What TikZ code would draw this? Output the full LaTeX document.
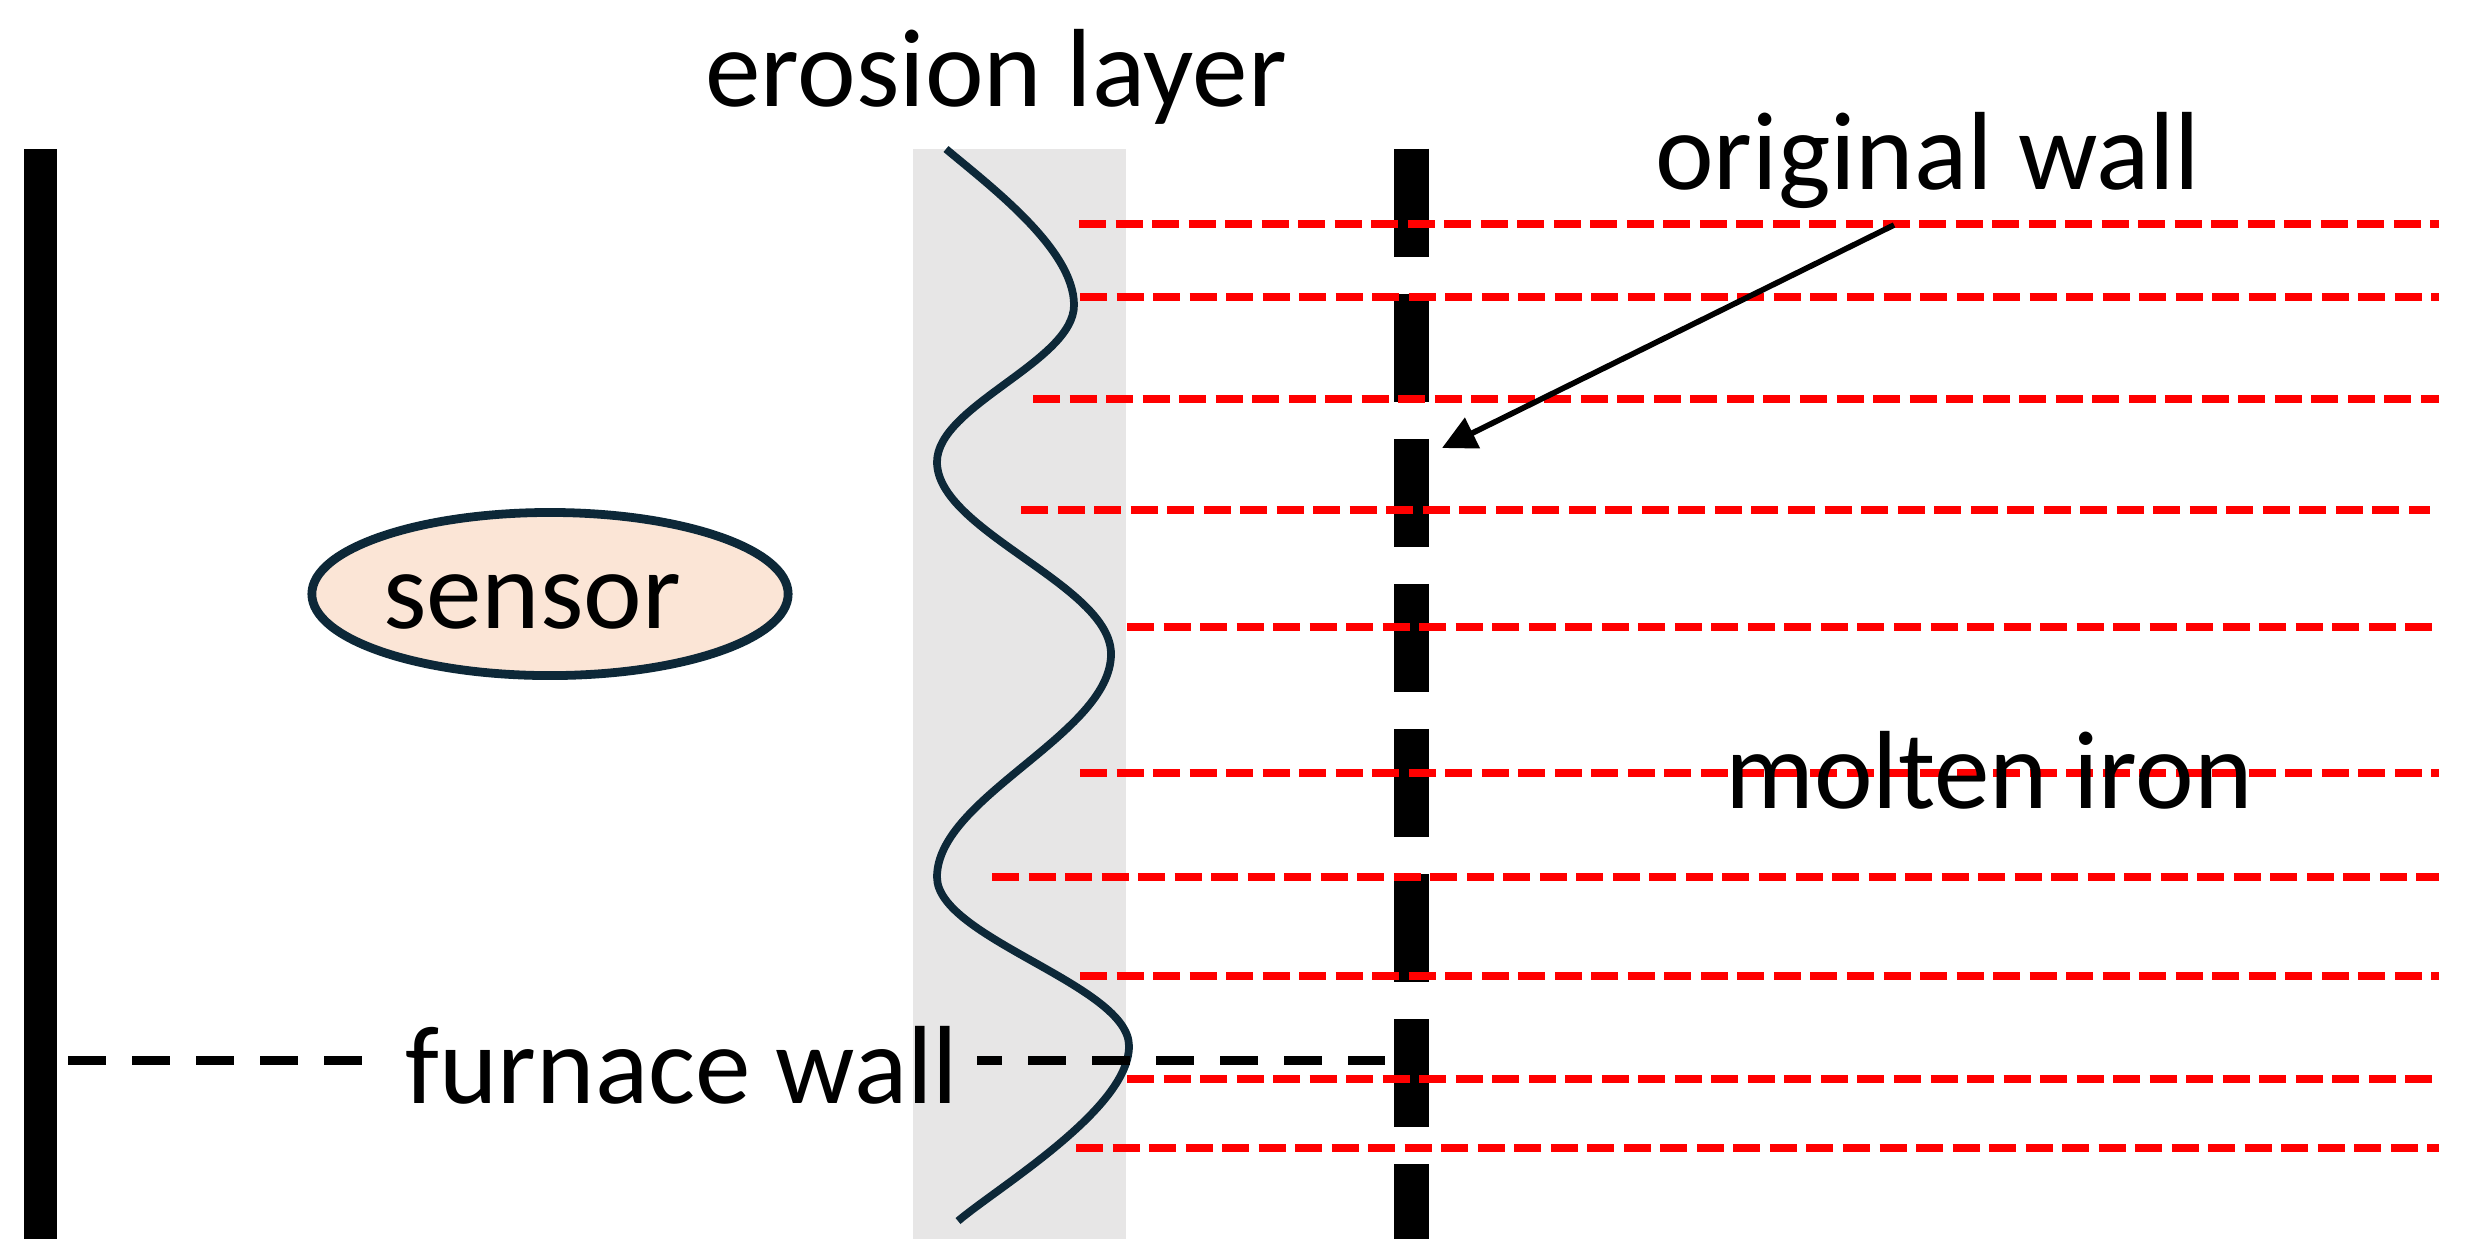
\documentclass[tikz,border=0pt]{standalone}
\usepackage{fontspec}
\setmainfont{Carlito}
\usetikzlibrary{arrows.meta,shapes.geometric}
\definecolor{navy}{RGB}{13,40,56}
\definecolor{peach}{RGB}{251,229,214}
\definecolor{bandgray}{RGB}{231,230,230}
\begin{document}
\begin{tikzpicture}[x=0.01cm,y=-0.01cm,
  lbl/.style={font=\fontsize{31.6}{38}\selectfont, text=black, inner sep=0pt},
  reddash/.style={draw=red, line width=2.28pt, dash pattern=on 0.27cm off 0.095cm},
  furnacedash/.style={draw=black, line width=2.56pt, dash pattern=on 0.38cm off 0.26cm},
  wallbar/.style={fill=black, inner sep=0pt, minimum width=0.335cm, minimum height=10.9cm},
  origwall/.style={draw=black, line width=0.35cm, dash pattern=on 1.08cm off 0.37cm},
  wave/.style={draw=navy, line width=2.2pt},
  sensorshape/.style={ellipse, draw=navy, fill=peach, line width=2.5pt, inner sep=0pt, minimum width=4.76cm, minimum height=1.63cm},
  pointer/.style={draw=black, line width=1.6pt, -{Triangle[length=0.34cm,width=0.33cm]}}
]
\useasboundingbox (0,0) rectangle (2473,1259);
\fill[white] (0,0) rectangle (2473,1259);

% erosion band
\fill[bandgray] (913,149) rectangle (1126,1239);

% left furnace wall
\node[wallbar] (lwall) at (40.5,694) {};

% original wall (dashed thick)
\coordinate (owtop) at (1411.5,148.6);
\coordinate (owbot) at (1411.5,1238.7);
\draw[origwall] (owtop) -- (owbot);

% molten iron red dashed lines
\foreach \yy/\xs/\xe in {224/1079/2439, 297/1080/2439, 399/1033/2439, 510/1021/2430,
  627/1127/2439, 773/1080/2439, 877/992/2439, 976/1080/2439, 1079/1127/2439, 1148/1076/2439}
  \draw[reddash] (\xs,\yy) -- (\xe,\yy);

% erosion wave
\draw[wave] (946,149) .. controls (990,186) and (1074,249) .. (1074,305)
  .. controls (1074,361.5) and (937,405.5) .. (937,462)
  .. controls (937,531) and (1111,585) .. (1111,654)
  .. controls (1111,734) and (937,797) .. (937,877)
  .. controls (937,938) and (1129,985) .. (1129,1046)
  .. controls (1129,1109) and (998,1187) .. (958,1221);

% sensor
\node[sensorshape] (sensor) at (550,594) {};
\node[lbl, anchor=base] (sensortext) at (532,628) {sensor};

% labels
\node[lbl, anchor=base] (erosion) at (996,106) {erosion layer};
\node[lbl, anchor=base] (owlabel) at (1928,189) {original wall};
\node[lbl, anchor=base] (molten) at (1989,808) {molten iron};
\node[lbl, anchor=base] (furnace) at (682,1103) {furnace wall};

% furnace wall dimension line
\coordinate (fwA) at (68,1060);
\coordinate (fwB) at (362,1060);
\coordinate (fwC) at (977,1060);
\coordinate (fwD) at (1385,1060);
\draw[furnacedash] (fwA) -- (fwB);
\draw[furnacedash, dash phase=0.13cm] (fwC) -- (fwD);

% arrow to original wall
\coordinate (arrowstart) at (1894,225);
\coordinate (arrowtip) at (1442,448);
\draw[pointer] (arrowstart) -- (arrowtip);
\end{tikzpicture}
\end{document}
